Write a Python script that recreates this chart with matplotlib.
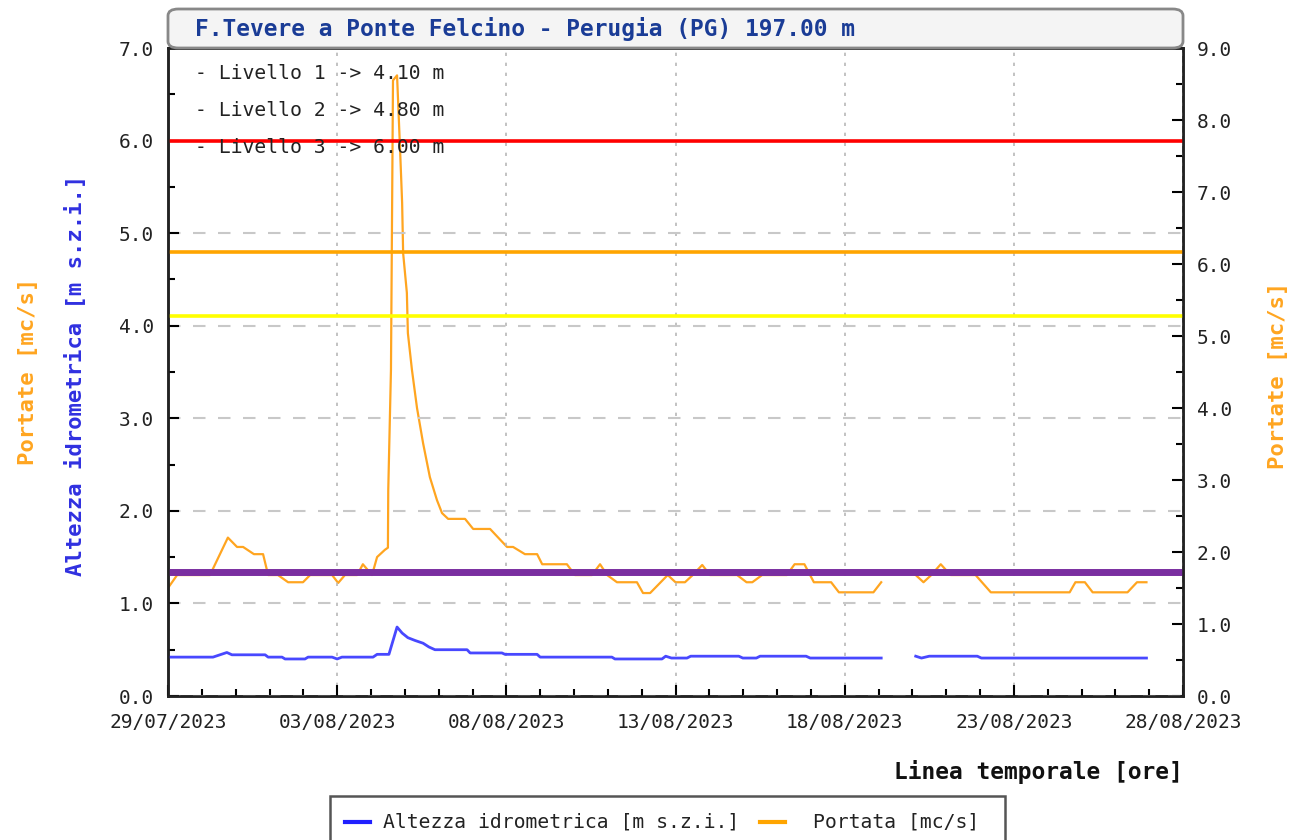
import numpy as np
import pandas as pd
import matplotlib
matplotlib.use("Agg")
from matplotlib import pyplot as plt
import matplotlib.dates as mdates
from matplotlib.patches import FancyBboxPatch, Rectangle
from matplotlib.lines import Line2D

plt.rcParams['font.family'] = ['DejaVu Sans Mono', 'DejaVu Sans']

# ---- dati (giorni dal 29/07/2023 00:00) ----
inizio = pd.Timestamp('2023-07-29')
fine = pd.Timestamp('2023-08-28')

altezza_giorni = [0.0, 1.33, 1.74, 1.89, 2.87, 2.96, 3.37, 3.46, 4.05, 4.14, 4.85, 5.00,
                  5.14, 6.06, 6.18, 6.53, 6.77, 6.92, 7.09, 7.30, 7.54, 7.71, 7.89, 8.84,
                  8.93, 9.87, 9.96, 10.91, 11.00, 13.12, 13.21, 14.60, 14.71, 14.88, 15.34,
                  15.45, 16.87, 16.99, 17.39, 17.50, 18.86, 18.98, 21.08, 21.5, 22.10,
                  22.27, 22.50, 23.92, 24.04, 28.92]
altezza_valori = [0.42, 0.42, 0.47, 0.445, 0.445, 0.42, 0.42, 0.40, 0.40, 0.42, 0.42, 0.40,
                  0.42, 0.42, 0.45, 0.45, 0.745, 0.68, 0.63, 0.60, 0.57, 0.53, 0.50, 0.50,
                  0.465, 0.465, 0.45, 0.45, 0.42, 0.42, 0.40, 0.40, 0.43, 0.41, 0.41,
                  0.43, 0.43, 0.41, 0.41, 0.43, 0.43, 0.41, 0.41, np.nan, 0.43,
                  0.41, 0.43, 0.43, 0.41, 0.41]

portata_giorni = [0.0, 0.27, 1.24, 1.77, 2.04, 2.22, 2.54, 2.81, 2.96, 3.25, 3.55, 3.99,
                  4.20, 4.85, 5.03, 5.23, 5.59, 5.76, 6.03, 6.18, 6.41, 6.50, 6.51, 6.59,
                  6.65, 6.77, 6.86, 6.92, 6.95, 7.06, 7.09, 7.21, 7.36, 7.54, 7.74, 7.95,
                  8.10, 8.28, 8.78, 9.02, 9.52, 10.02, 10.20, 10.55, 10.91, 11.06, 11.79,
                  12.03, 12.53, 12.77, 12.98, 13.27, 13.86, 14.04, 14.25, 14.77, 15.00,
                  15.28, 15.51, 15.79, 16.02, 16.82, 17.10, 17.27, 17.56, 18.29, 18.52,
                  18.81, 19.09, 19.60, 19.83, 20.85, 21.08, 21.5, 22.10, 22.33, 22.56,
                  22.84, 23.13, 23.87, 24.32, 26.65, 26.82, 27.10, 27.33, 28.36, 28.64,
                  28.92]
portata_valori = [1.50, 1.68, 1.68, 2.20, 2.07, 2.07, 1.97, 1.97, 1.68, 1.68, 1.58, 1.58,
                  1.68, 1.68, 1.57, 1.68, 1.68, 1.83, 1.68, 1.93, 2.03, 2.06, 2.86, 4.53,
                  8.55, 8.62, 7.58, 6.85, 6.15, 5.60, 5.04, 4.53, 4.00, 3.51, 3.04, 2.72,
                  2.54, 2.46, 2.46, 2.32, 2.32, 2.07, 2.07, 1.97, 1.97, 1.83, 1.83,
                  1.68, 1.68, 1.83, 1.68, 1.58, 1.58, 1.43, 1.43, 1.68, 1.58,
                  1.58, 1.68, 1.82, 1.68, 1.68, 1.58, 1.58, 1.68, 1.68, 1.83,
                  1.83, 1.58, 1.58, 1.44, 1.44, 1.58, np.nan, 1.68, 1.58, 1.68,
                  1.83, 1.68, 1.68, 1.44, 1.44, 1.58, 1.58, 1.44, 1.44, 1.58,
                  1.58]

livelli = [4.10, 4.80, 6.00]
livelli_colori = ['#ffff00', '#ffa500', '#ff0000']
linea_viola = 1.34

titolo = 'F.Tevere a Ponte Felcino - Perugia (PG) 197.00 m'

t_alt = inizio + pd.to_timedelta(altezza_giorni, unit='D')
t_por = inizio + pd.to_timedelta(portata_giorni, unit='D')

W, H = 1298, 840
fig = plt.figure(figsize=(W / 100, H / 100), dpi=100)
ax = fig.add_axes([168 / W, 1 - 696 / H, (1183 - 168) / W, (696 - 48) / H])
ax2 = ax.twinx()
ax.set_zorder(ax2.get_zorder() + 1)
ax.patch.set_visible(False)

# serie
ax.plot(t_alt, altezza_valori, color='#4848ff', lw=2.0)
ax2.plot(t_por, portata_valori, color='#ffa520', lw=1.6)

# soglie
for liv, col in zip(livelli, livelli_colori):
    ax.axhline(liv, color=col, lw=2.6)
ax.axhline(linea_viola, color='#7a2ea0', lw=5)

ax.set_ylim(0, 7)
ax2.set_ylim(0, 9)
ax.set_xlim(inizio, fine)

maj = pd.date_range(inizio, fine, freq='5D')
ax.set_xticks(maj)
ax.xaxis.set_major_formatter(mdates.DateFormatter('%d/%m/%Y'))
ax.xaxis.set_minor_locator(mdates.DayLocator())
ax.set_yticks(np.arange(0, 7.1, 1))
ax.set_yticks(np.arange(0.5, 7, 1), minor=True)
ax2.set_yticks(np.arange(0, 9.1, 1))
ax2.set_yticks(np.arange(0.5, 9, 1), minor=True)
ax.yaxis.set_major_formatter(matplotlib.ticker.FormatStrFormatter('%.1f'))
ax2.yaxis.set_major_formatter(matplotlib.ticker.FormatStrFormatter('%.1f'))

for a in (ax, ax2):
    a.tick_params(which='major', direction='in', length=8, width=1.5, labelsize=14,
                  labelcolor='#222222', pad=10)
    a.tick_params(which='minor', direction='in', length=5, width=1.5)
    for s in a.spines.values():
        s.set_linewidth(1.8)
        s.set_color('#222222')
ax.tick_params(axis='x', pad=12)

# griglia
ax.grid(axis='x', which='major', color='#b8b8b8', linestyle=(0, (2, 4)), lw=1.2)
ax.grid(axis='y', which='major', color='#c8c8c8', linestyle=(0, (6, 6)), lw=1.5)

# testo livelli
for i, liv in enumerate(livelli):
    ax.text(0.027, 0.961 - i * 0.057, '- Livello %d -> %.2f m' % (i + 1, liv),
            transform=ax.transAxes, fontsize=14.2, color='#222222', va='center', zorder=5)

# etichette assi
fig.text(75 / W, 1 - 375 / H, 'Altezza idrometrica [m s.z.i.]', rotation=90, color='#3030e0',
         fontsize=16, fontweight='bold', ha='center', va='center')
fig.text(28 / W, 1 - 371 / H, 'Portate [mc/s]', rotation=90, color='#ffa520',
         fontsize=16, fontweight='bold', ha='center', va='center')
fig.text(1278 / W, 1 - 375 / H, 'Portate [mc/s]', rotation=90, color='#ffa520',
         fontsize=16, fontweight='bold', ha='center', va='center')
fig.text(1183 / W, 1 - 772 / H, 'Linea temporale [ore]', color='#111111',
         fontsize=16.5, fontweight='bold', ha='right', va='center')

# riquadro titolo
box = FancyBboxPatch((168 / W, 1 - 48 / H), (1183 - 168) / W, 39 / H,
                     boxstyle='round,pad=0,rounding_size=0.008', transform=fig.transFigure,
                     facecolor='#f4f4f4', edgecolor='#888888', lw=2)
fig.patches.append(box)
fig.text(195 / W, 1 - 29 / H, titolo, color='#1a3c96', fontsize=16.5, fontweight='bold',
         ha='left', va='center')

# legenda
leg = Rectangle((330 / W, -0.05), (1005 - 330) / W, (840 - 796) / H + 0.05,
                transform=fig.transFigure, facecolor='white', edgecolor='#555555', lw=1.8)
fig.patches.append(leg)
fig.lines.append(Line2D([345 / W, 370 / W], [1 - 822 / H] * 2, transform=fig.transFigure,
                        color='#2020ff', lw=3))
fig.text(383 / W, 1 - 822 / H, 'Altezza idrometrica [m s.z.i.]', fontsize=14.2,
         color='#222222', va='center')
fig.lines.append(Line2D([760 / W, 785 / W], [1 - 822 / H] * 2, transform=fig.transFigure,
                        color='#ffa500', lw=3))
fig.text(813 / W, 1 - 822 / H, 'Portata [mc/s]', fontsize=14.2, color='#222222', va='center')

fig.savefig('out.png', dpi=100)
